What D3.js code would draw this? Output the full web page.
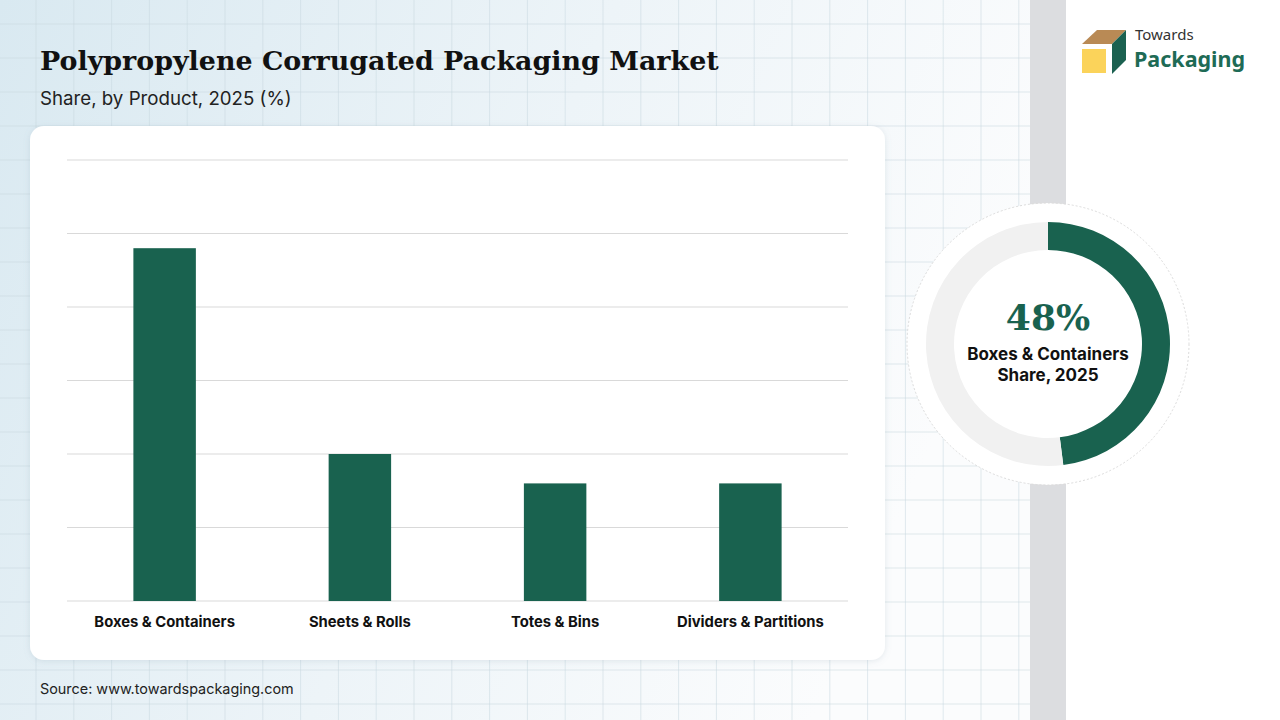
<!DOCTYPE html>
<html>
<head>
<meta charset="utf-8">
<script src="https://cdn.jsdelivr.net/npm/d3@7"></script>
<style>
  body { margin: 0; width: 1280px; height: 720px; overflow: hidden; background: #fff; }
  svg { display: block; }
</style>
</head>
<body>
<svg id="chart" width="1280" height="720"></svg>
<script>
// chart values
const categories = ["Boxes & Containers", "Sheets & Rolls", "Totes & Bins", "Dividers & Partitions"];
const shares = [48, 20, 16, 16];
const yTicks = [0, 10, 20, 30, 40, 50, 60];
const donutLabel = ["Boxes & Containers", "Share, 2025"];
const donutShare = 48;

const green = "#19624f";
const svg = d3.select("#chart");
const defs = svg.append("defs");

// background
let bg = defs.append("linearGradient").attr("id", "bg").attr("x1", 0).attr("x2", 1).attr("y1", 0).attr("y2", 0.3);
bg.append("stop").attr("offset", 0).attr("stop-color", "#d9e9f1");
bg.append("stop").attr("offset", 0.55).attr("stop-color", "#edf4f8");
bg.append("stop").attr("offset", 1).attr("stop-color", "#fbfcfd");
svg.append("rect").attr("width", 1030).attr("height", 720).attr("fill", "url(#bg)");

// faint grid in the background
let gridBg = svg.append("g").attr("stroke", "#c9d8e0").attr("stroke-opacity", 0.55).attr("stroke-width", 1);
d3.range(36, 1030, 37.8).forEach(x => gridBg.append("line").attr("x1", x).attr("x2", x).attr("y1", 0).attr("y2", 720));
d3.range(24, 720, 34).forEach(y => gridBg.append("line").attr("x1", 0).attr("x2", 1030).attr("y1", y).attr("y2", y));

// grey strip + white right side
svg.append("rect").attr("x", 1030).attr("width", 36).attr("height", 720).attr("fill", "#dcdde0");
svg.append("rect").attr("x", 1066).attr("width", 214).attr("height", 720).attr("fill", "#ffffff");

// title
svg.append("text").attr("x", 40).attr("y", 70)
  .attr("font-family", "'DejaVu Serif', serif").attr("font-weight", "bold").attr("font-size", 26.9)
  .attr("fill", "#111").text("Polypropylene Corrugated Packaging Market");
svg.append("text").attr("x", 40).attr("y", 105)
  .attr("font-family", "Inter, 'Noto Sans', sans-serif").attr("font-size", 18.7)
  .attr("fill", "#222").text("Share, by Product, 2025 (%)");

// card
let shadow = defs.append("filter").attr("id", "shadow").attr("x", -0.1).attr("y", -0.1).attr("width", 1.2).attr("height", 1.2);
shadow.append("feDropShadow").attr("dx", 0).attr("dy", 1).attr("stdDeviation", 3).attr("flood-color", "#7a95a5").attr("flood-opacity", 0.2);
svg.append("rect").attr("x", 30).attr("y", 126).attr("width", 855).attr("height", 534).attr("rx", 14)
  .attr("fill", "#fff").attr("filter", "url(#shadow)");

// bar chart
const plotL = 67, plotR = 848, plotT = 160, plotB = 601;
let x = d3.scaleBand().domain(categories).range([plotL, plotR]).paddingInner(0.68).paddingOuter(0.34);
let y = d3.scaleLinear().domain([0, 60]).range([plotB, plotT]);

let g = svg.append("g");
g.selectAll(".grid").data(yTicks).enter().append("line")
  .attr("x1", plotL).attr("x2", plotR)
  .attr("y1", d => y(d)).attr("y2", d => y(d))
  .attr("stroke", "#d9d9d9").attr("stroke-width", 1);

g.selectAll(".bar").data(shares).enter().append("rect")
  .attr("x", (d, i) => x(categories[i]))
  .attr("width", x.bandwidth())
  .attr("y", d => y(d))
  .attr("height", d => y(0) - y(d))
  .attr("fill", green);

let xAxis = g.append("g").attr("transform", "translate(0," + plotB + ")")
  .call(d3.axisBottom(x).tickSize(0).tickPadding(15));
xAxis.select(".domain").remove();
xAxis.selectAll("text")
  .attr("font-family", "Inter, Roboto, sans-serif")
  .attr("font-weight", "bold").attr("font-size", 14.8).attr("fill", "#111");

// source
svg.append("text").attr("x", 40).attr("y", 694)
  .attr("font-family", "Inter, Roboto, sans-serif").attr("font-size", 14.4)
  .attr("fill", "#222").text("Source: www.towardspackaging.com");

// donut
const cx = 1048, cy = 344;
svg.append("circle").attr("cx", cx).attr("cy", cy).attr("r", 141)
  .attr("fill", "#fff").attr("stroke", "#dcdcdc").attr("stroke-dasharray", "2,2");
let arc = d3.arc().innerRadius(94).outerRadius(122);
let pie = d3.pie().sort(null)([donutShare, 100 - donutShare]);
svg.append("g").attr("transform", "translate(" + cx + "," + cy + ")")
  .selectAll("path").data(pie).enter().append("path")
  .attr("d", arc)
  .attr("fill", (d, i) => i == 0 ? green : "#f1f1f1");

svg.append("text").attr("x", cx).attr("y", 330).attr("text-anchor", "middle")
  .attr("font-family", "'DejaVu Serif', serif").attr("font-weight", "bold").attr("font-size", 36)
  .attr("fill", green).text(donutShare + "%");
donutLabel.forEach((t, i) => {
  svg.append("text").attr("x", cx).attr("y", 360 + i * 21).attr("text-anchor", "middle")
    .attr("font-family", "Inter, 'Liberation Sans', sans-serif").attr("font-weight", "bold").attr("font-size", 17)
    .attr("fill", "#111").text(t);
});

// logo
let logo = svg.append("g");
logo.append("polygon").attr("points", "1082,44 1097,30 1126,30 1112,44").attr("fill", "#b98a55");
logo.append("polygon").attr("points", "1112,44 1126,30 1126,60 1112,74").attr("fill", "#1b6150");
logo.append("rect").attr("x", 1082).attr("y", 49).attr("width", 24).attr("height", 24).attr("fill", "#fbd35a");
logo.append("text").attr("x", 1135).attr("y", 40)
  .attr("font-family", "'Noto Sans', sans-serif").attr("font-size", 15).attr("fill", "#333").text("Towards");
logo.append("text").attr("x", 1134).attr("y", 67)
  .attr("font-family", "'Noto Sans', sans-serif").attr("font-weight", "bold").attr("font-size", 21.5)
  .attr("fill", "#1e6b56").text("Packaging");
</script>
</body>
</html>
